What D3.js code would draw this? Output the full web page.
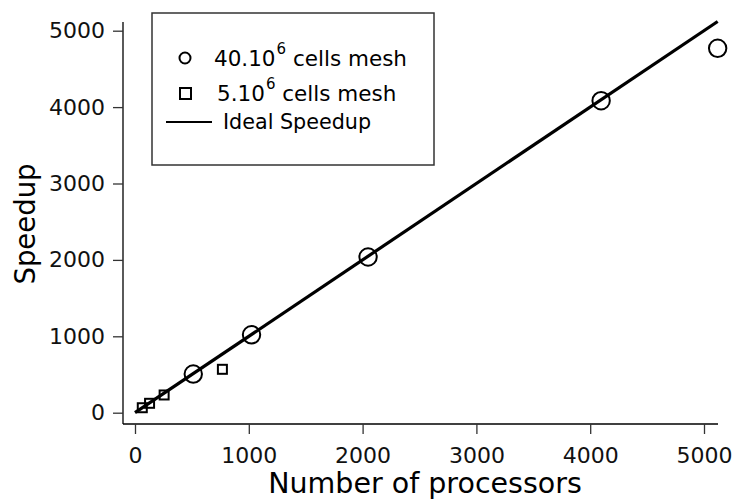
<!DOCTYPE html>
<html>
<head>
<meta charset="utf-8">
<script src="https://cdn.jsdelivr.net/npm/d3@7"></script>
<style>
  html, body { margin: 0; padding: 0; background: #fff; }
  svg { display: block; font-family: "DejaVu Sans", sans-serif; }
</style>
</head>
<body>
<svg id="chart" width="736" height="500"></svg>
<script>
// Strong-scaling results: speedup versus processor count
const procs40M = [512, 1024, 2048, 4096, 5120];
const speedup40M = [506, 1020, 2038, 4084, 4770];
const procs5M = [64, 128, 256, 768];
const speedup5M = [65, 123, 232, 568];
const idealProcs = [0, 5120];
const xTicks = [0, 1000, 2000, 3000, 4000, 5000];
const yTicks = [0, 1000, 2000, 3000, 4000, 5000];

const svg = d3.select("#chart");

const x = d3.scaleLinear().domain([0, 5000]).range([135, 704]);
const y = d3.scaleLinear().domain([0, 5000]).range([412.7, 30.7]);

const axisX = 123, axisY = 424;

// Axis lines (extend past the tick range)
svg.append("line")
  .attr("x1", axisX).attr("x2", axisX).attr("y1", 22).attr("y2", axisY)
  .attr("stroke", "#000").attr("stroke-width", 1.3);
svg.append("line")
  .attr("x1", axisX).attr("x2", 718).attr("y1", axisY).attr("y2", axisY)
  .attr("stroke", "#000").attr("stroke-width", 1.3);

const yAxis = svg.append("g")
  .attr("transform", `translate(${axisX},0)`)
  .call(d3.axisLeft(y).tickValues(yTicks).tickSize(10).tickPadding(8).tickFormat(d3.format("d")));
const xAxis = svg.append("g")
  .attr("transform", `translate(0,${axisY})`)
  .call(d3.axisBottom(x).tickValues(xTicks).tickSize(10).tickPadding(13).tickFormat(d3.format("d")));

[yAxis, xAxis].forEach(g => {
  g.select(".domain").remove();
  g.selectAll(".tick line").attr("stroke", "#333").attr("stroke-width", 1.3);
  g.selectAll(".tick text")
    .attr("fill", "#111")
    .style("font-size", "22px")
    .style("font-family", "DejaVu Sans, sans-serif");
});

// Axis titles
svg.append("text")
  .attr("x", 425).attr("y", 493)
  .attr("text-anchor", "middle")
  .attr("fill", "#000")
  .style("font-size", "28.5px")
  .text("Number of processors");
svg.append("text")
  .attr("transform", "translate(35,224) rotate(-90)")
  .attr("text-anchor", "middle")
  .attr("fill", "#000")
  .style("font-size", "27.5px")
  .text("Speedup");

// Ideal speedup line
const line = d3.line().x(d => x(d)).y(d => y(d));
svg.append("path")
  .datum(idealProcs)
  .attr("d", line)
  .attr("fill", "none")
  .attr("stroke", "#000")
  .attr("stroke-width", 3.2);

// 40M-cell mesh results
svg.selectAll("circle.m40")
  .data(procs40M.map((p, i) => [p, speedup40M[i]]))
  .join("circle")
  .attr("class", "m40")
  .attr("cx", d => x(d[0])).attr("cy", d => y(d[1]))
  .attr("r", 8.7)
  .attr("fill", "none").attr("stroke", "#000").attr("stroke-width", 2);

// 5M-cell mesh results
const sq = 9;
svg.selectAll("rect.m5")
  .data(procs5M.map((p, i) => [p, speedup5M[i]]))
  .join("rect")
  .attr("class", "m5")
  .attr("x", d => x(d[0]) - sq / 2).attr("y", d => y(d[1]) - sq / 2)
  .attr("width", sq).attr("height", sq)
  .attr("fill", "none").attr("stroke", "#000").attr("stroke-width", 2);

// Legend
const legend = svg.append("g");
legend.append("rect")
  .attr("x", 152).attr("y", 13).attr("width", 282).attr("height", 152)
  .attr("fill", "#fff").attr("stroke", "#333").attr("stroke-width", 1.5);

legend.append("circle")
  .attr("cx", 185).attr("cy", 58).attr("r", 5.5)
  .attr("fill", "none").attr("stroke", "#000").attr("stroke-width", 2);
legend.append("rect")
  .attr("x", 180).attr("y", 88).attr("width", 11).attr("height", 11)
  .attr("fill", "none").attr("stroke", "#000").attr("stroke-width", 2);
legend.append("line")
  .attr("x1", 166).attr("x2", 212).attr("y1", 122).attr("y2", 122)
  .attr("stroke", "#000").attr("stroke-width", 2);

function meshLabel(xPos, yPos, base) {
  const t = legend.append("text")
    .attr("x", xPos).attr("y", yPos)
    .attr("fill", "#000")
    .style("font-size", "21.5px");
  t.append("tspan").text(base);
  t.append("tspan").attr("dy", -12).attr("dx", 1).style("font-size", "15px").text("6");
  t.append("tspan").attr("dy", 12).text(" cells mesh");
}
meshLabel(214, 66, "40.10");
meshLabel(217, 101, "5.10");
legend.append("text")
  .attr("x", 223).attr("y", 129)
  .attr("fill", "#000")
  .style("font-size", "20.7px")
  .text("Ideal Speedup");
</script>
</body>
</html>
